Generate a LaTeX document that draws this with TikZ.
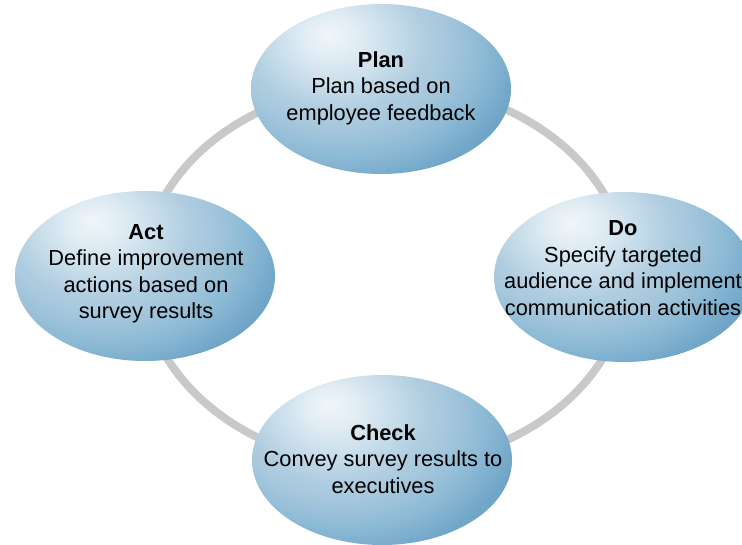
\documentclass[tikz,border=0pt]{standalone}
\usepackage{fontspec}
\setmainfont{Liberation Sans}
\usetikzlibrary{shapes.geometric}
\definecolor{ringgray}{HTML}{C8C9C8}
\definecolor{bA}{HTML}{F0F5F9}
\definecolor{bB}{HTML}{E2EDF4}
\definecolor{bC}{HTML}{C9DEEB}
\definecolor{bD}{HTML}{B0CDE0}
\definecolor{bE}{HTML}{A5C7DC}
\definecolor{bF}{HTML}{8DBAD5}
\definecolor{bG}{HTML}{72A7C9}
\definecolor{bH}{HTML}{629CC2}
\definecolor{bI}{HTML}{5190B9}
\definecolor{bJ}{HTML}{4A88B2}
\pgfdeclareradialshading{bubbleshade}{\pgfpoint{-10.25bp}{13.9bp}}{%
color(0bp)=(bA); color(5bp)=(bB); color(11bp)=(bC); color(17bp)=(bD);
color(21bp)=(bE); color(27bp)=(bF); color(33bp)=(bG); color(37.5bp)=(bH);
color(41bp)=(bI); color(46bp)=(bJ); color(100bp)=(bJ)}
\tikzset{
  bubble/.style={ellipse, minimum width=260pt, minimum height=170pt, inner sep=0pt,
    path picture={\shade[shading=bubbleshade] (path picture bounding box.center)
      ellipse [x radius=130pt, y radius=100pt];}},
  label text/.style={align=center, font=\fontsize{21.8}{26.5}\selectfont, text=black, inner sep=0pt},
  ring/.style={draw=ringgray, line width=8pt}
}
\begin{document}
\begin{tikzpicture}[x=1pt,y=-1pt]
\useasboundingbox (0,0) rectangle (742,545);
\coordinate (ringc) at (385,275);
\draw[ring] (ringc) ellipse [x radius=242pt, y radius=191pt];
\node[bubble] (plan) at (381,89) {};
\node[bubble] (do) at (624,277) {};
\node[bubble] (act) at (145,276) {};
\node[bubble] (check) at (382,460) {};
\node[label text] (planT) at (381,88) {\textbf{Plan}\\Plan based on\\employee feedback};
\node[label text] (doT) at (623,268) {\textbf{Do}\\Specify targeted\\audience and implement\\communication activities};
\node[label text] (actT) at (146,274) {\textbf{Act}\\Define improvement\\actions based on\\survey results};
\node[label text] (checkT) at (383,459) {\textbf{Check}\\Convey survey results to\\executives};
\end{tikzpicture}
\end{document}
